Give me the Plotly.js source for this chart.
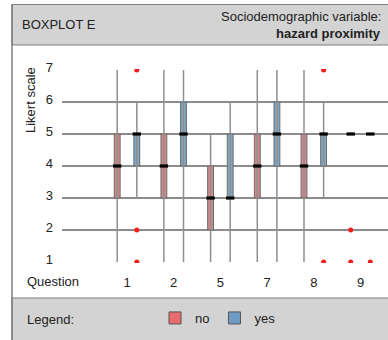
<!DOCTYPE html>
<html>
<head>
<meta charset="utf-8">
<script src="https://cdn.plot.ly/plotly-3.0.1.min.js"></script>
<style>html,body{margin:0;padding:0;background:#fff;}#chart{width:388px;height:340px;}</style>
</head>
<body>
<div id="chart"></div>
<script>
// ---- data ----
const questions = ['1', '2', '5', '7', '8', '9'];
const yTicks = [1, 2, 3, 4, 5, 6, 7];

// group "no"
const noLow    = [1, 1, 1, 1, 1, null];
const noHigh   = [7, 7, 5, 7, 7, null];
const noQ1     = [3, 3, 2, 3, 3, 5];
const noMedian = [4, 4, 3, 4, 4, 5];
const noQ3     = [5, 5, 4, 5, 5, 5];
const noOutQ   = ['9', '9'];
const noOutVal = [2, 1];

// group "yes"
const yesLow    = [3, 1, 1, 1, 3, null];
const yesHigh   = [6, 7, 6, 7, 6, null];
const yesQ1     = [4, 4, 3, 4, 4, 5];
const yesMedian = [5, 5, 3, 5, 5, 5];
const yesQ3     = [5, 6, 5, 6, 5, 5];
const yesOutQ   = ['1', '1', '1', '8', '8', '9'];
const yesOutVal = [7, 2, 1, 7, 1, 1];

// ---- layout helpers ----
const W = 388, H = 340;
const UNIT = 32;                      // px per Likert step (whole pixels keep lines crisp)
const M = {l: 62, r: 0, t: 69, b: 340 - 69 - (6 * UNIT + 2)};
const PW = W - M.l - M.r, PH = H - M.t - M.b;
const px = v => (v - M.l) / PW;      // pixel x -> paper x
const py = v => (H - M.b - v) / PH;  // pixel y -> paper y

const STEP = 46.7;
const XR = [-65 / STEP, -65 / STEP + PW / STEP];
const YR = [1 - 1 / UNIT, 7 + 1 / UNIT];
const OFF = 0.21;
const BOXW = 0.125;
const FONT = '"Liberation Sans", Arial, sans-serif';
const TXT = '#222222';
const noFill = '#d4878b', yesFill = '#7ea6c6';
const noLegend = '#e86b6d', yesLegend = '#6f9bc4';
const gridCol = '#8c8c8c';
const whiskCol = '#8f8f8f';

function whiskers(low, high, off) {
  const x = [], y = [];
  low.forEach((lo, i) => {
    if (lo === null || high[i] === null) return;
    x.push(i + off, i + off, null);
    y.push(lo, high[i], null);
  });
  return {x, y};
}

const wNo = whiskers(noLow, noHigh, -OFF);
const wYes = whiskers(yesLow, yesHigh, OFF);
const idx = questions.map((q, i) => i);

const traces = [
  {type: 'scatter', mode: 'lines', x: wNo.x, y: wNo.y, line: {color: whiskCol, width: 1.5},
   showlegend: false, hoverinfo: 'skip'},
  {type: 'scatter', mode: 'lines', x: wYes.x, y: wYes.y, line: {color: whiskCol, width: 1.5},
   showlegend: false, hoverinfo: 'skip'},
  {type: 'bar', x: idx.map(i => i - OFF), base: noQ1, y: noQ3.map((v, i) => v - noQ1[i]),
   width: BOXW, marker: {color: noFill, line: {color: '#6b6b6b', width: 1}}, showlegend: false},
  {type: 'bar', x: idx.map(i => i + OFF), base: yesQ1, y: yesQ3.map((v, i) => v - yesQ1[i]),
   width: BOXW, marker: {color: yesFill, line: {color: '#6b6b6b', width: 1}}, showlegend: false},
  {type: 'scatter', mode: 'markers', x: idx.map(i => i - OFF), y: noMedian,
   marker: {symbol: 'line-ew', size: 6, color: '#000', line: {color: '#000', width: 3.2}}, showlegend: false},
  {type: 'scatter', mode: 'markers', x: idx.map(i => i + OFF), y: yesMedian,
   marker: {symbol: 'line-ew', size: 6, color: '#000', line: {color: '#000', width: 3.2}}, showlegend: false},
  {type: 'scatter', mode: 'markers', x: noOutQ.map(q => questions.indexOf(q) - OFF), y: noOutVal,
   marker: {color: '#ff1a1a', size: 5}, showlegend: false, cliponaxis: true},
  {type: 'scatter', mode: 'markers', x: yesOutQ.map(q => questions.indexOf(q) + OFF), y: yesOutVal,
   marker: {color: '#ff1a1a', size: 5}, showlegend: false, cliponaxis: true},
  // legend entries
  {type: 'bar', name: 'no', x: [null], y: [null], marker: {color: noLegend, line: {color: '#555', width: 1}}},
  {type: 'bar', name: 'yes', x: [null], y: [null], marker: {color: yesLegend, line: {color: '#555', width: 1}}}
];

const bandCol = '#d3d3d3', borderCol = '#7f7f7f';
const layout = {
  width: W, height: H,
  margin: M,
  paper_bgcolor: '#ffffff', plot_bgcolor: '#ffffff',
  font: {family: FONT, size: 13, color: TXT},
  barmode: 'overlay',
  xaxis: {
    range: XR,
    tickmode: 'array', tickvals: idx, ticktext: questions,
    showgrid: false, zeroline: false, showline: false, ticks: '',
    ticklabelstandoff: 10, tickfont: {family: FONT, size: 13, color: TXT}, fixedrange: true
  },
  yaxis: {
    range: YR,
    tickmode: 'array', tickvals: yTicks,
    showgrid: true, gridcolor: gridCol, gridwidth: 2,
    zeroline: false, showline: false, ticks: '',
    ticklabelstandoff: 8, ticklabelshift: -3,
    tickfont: {family: FONT, size: 13, color: TXT}, fixedrange: true
  },
  showlegend: true,
  legend: {
    orientation: 'h', x: px(155), y: py(318), xanchor: 'left', yanchor: 'middle',
    bgcolor: 'rgba(0,0,0,0)', font: {family: FONT, size: 13, color: TXT},
    itemwidth: 30
  },
  shapes: [
    {type: 'rect', xref: 'paper', yref: 'paper', x0: px(12), x1: px(392), y0: py(4.5), y1: py(45),
     fillcolor: bandCol, line: {color: borderCol, width: 1.2}, layer: 'below'},
    {type: 'rect', xref: 'paper', yref: 'paper', x0: px(12), x1: px(392), y0: py(298), y1: py(345),
     fillcolor: bandCol, line: {color: borderCol, width: 1.2}, layer: 'below'},
    {type: 'line', xref: 'paper', yref: 'paper', x0: px(12), x1: px(12), y0: py(4.5), y1: py(345),
     line: {color: borderCol, width: 1.5}}
  ],
  annotations: [
    {xref: 'paper', yref: 'paper', x: px(20), y: py(25), xanchor: 'left', yanchor: 'middle',
     text: 'BOXPLOT E', showarrow: false, font: {family: FONT, size: 13, color: TXT}},
    {xref: 'paper', yref: 'paper', x: px(383), y: py(16), xanchor: 'right', yanchor: 'middle',
     text: 'Sociodemographic variable:', showarrow: false, font: {family: FONT, size: 13, color: TXT}},
    {xref: 'paper', yref: 'paper', x: px(383), y: py(33), xanchor: 'right', yanchor: 'middle',
     text: '<b>hazard proximity</b>', showarrow: false, font: {family: FONT, size: 13, color: TXT}},
    {xref: 'paper', yref: 'paper', x: px(30), y: py(100), xanchor: 'center', yanchor: 'middle',
     text: 'Likert scale', textangle: -90, showarrow: false, font: {family: FONT, size: 13, color: TXT}},
    {xref: 'paper', yref: 'paper', x: px(25), y: py(281), xanchor: 'left', yanchor: 'middle',
     text: 'Question', showarrow: false, font: {family: FONT, size: 13, color: TXT}},
    {xref: 'paper', yref: 'paper', x: px(25), y: py(319), xanchor: 'left', yanchor: 'middle',
     text: 'Legend:', showarrow: false, font: {family: FONT, size: 13, color: TXT}}
  ]
};

Plotly.newPlot('chart', traces, layout, {displayModeBar: false, staticPlot: true});
</script>
</body>
</html>
